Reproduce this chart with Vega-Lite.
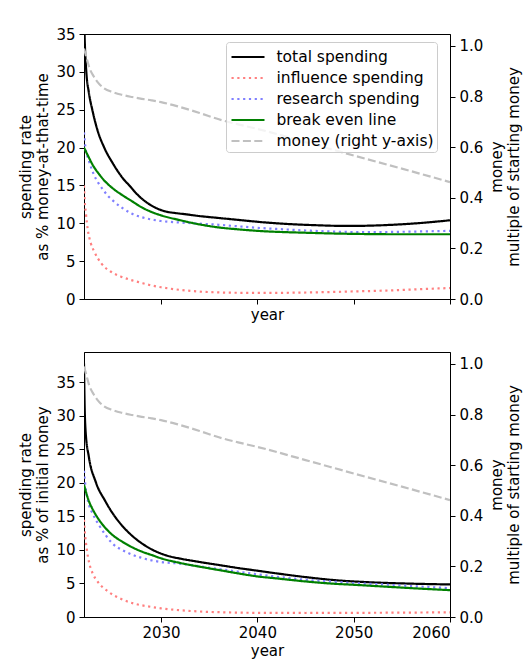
{
  "$schema": "https://vega.github.io/schema/vega-lite/v6.json",
  "padding": {"left": 18, "top": 26, "right": 5, "bottom": 5},
  "config": {
    "font": "DejaVu Sans",
    "view": {"stroke": "black", "strokeWidth": 1},
    "axis": {
      "grid": false, "labelFontSize": 15, "titleFontSize": 15, "titleFontWeight": "normal",
      "labelColor": "black", "titleColor": "black", "domainColor": "black", "tickColor": "black",
      "tickSize": 5, "labelPadding": 4, "titleLineHeight": 17
    },
    "legend": {
      "orient": "none", "legendX": 142, "legendY": 8, "title": null,
      "symbolType": "M-1.5,0L1.5,0", "symbolSize": 484, "symbolStrokeWidth": 2.2, "symbolOffset": 7,
      "labelFontSize": 15.5, "labelColor": "black", "labelOffset": 16, "rowPadding": 0,
      "padding": 2.5, "strokeColor": "#cccccc", "fillColor": "rgba(255,255,255,0.8)", "cornerRadius": 3
    }
  },
  "datasets": {
    "top": [
      {"series": "total spending", "year": 2022, "value": 37.8},
      {"series": "total spending", "year": 2022.08, "value": 34.0},
      {"series": "total spending", "year": 2022.24, "value": 30.0},
      {"series": "total spending", "year": 2022.5, "value": 27.3},
      {"series": "total spending", "year": 2022.86, "value": 25.0},
      {"series": "total spending", "year": 2023.4, "value": 22.3},
      {"series": "total spending", "year": 2024.1, "value": 20.0},
      {"series": "total spending", "year": 2025, "value": 17.9},
      {"series": "total spending", "year": 2026, "value": 16.0},
      {"series": "total spending", "year": 2026.7, "value": 15.0},
      {"series": "total spending", "year": 2027.7, "value": 13.6},
      {"series": "total spending", "year": 2028.8, "value": 12.5},
      {"series": "total spending", "year": 2029.6, "value": 11.95},
      {"series": "total spending", "year": 2030.5, "value": 11.55},
      {"series": "total spending", "year": 2031.5, "value": 11.35},
      {"series": "total spending", "year": 2032.5, "value": 11.2},
      {"series": "total spending", "year": 2034, "value": 10.95},
      {"series": "total spending", "year": 2036, "value": 10.7},
      {"series": "total spending", "year": 2038, "value": 10.45},
      {"series": "total spending", "year": 2040, "value": 10.2},
      {"series": "total spending", "year": 2042, "value": 10.0},
      {"series": "total spending", "year": 2044, "value": 9.85},
      {"series": "total spending", "year": 2046, "value": 9.75},
      {"series": "total spending", "year": 2048, "value": 9.67},
      {"series": "total spending", "year": 2050, "value": 9.65},
      {"series": "total spending", "year": 2052, "value": 9.7},
      {"series": "total spending", "year": 2054, "value": 9.8},
      {"series": "total spending", "year": 2056, "value": 9.95},
      {"series": "total spending", "year": 2058, "value": 10.15},
      {"series": "total spending", "year": 2060, "value": 10.4},
      {"series": "influence spending", "year": 2022, "value": 15.0},
      {"series": "influence spending", "year": 2022.03, "value": 14.0},
      {"series": "influence spending", "year": 2022.2, "value": 11.3},
      {"series": "influence spending", "year": 2022.4, "value": 9.1},
      {"series": "influence spending", "year": 2022.7, "value": 7.4},
      {"series": "influence spending", "year": 2023.07, "value": 6.25},
      {"series": "influence spending", "year": 2023.8, "value": 4.7},
      {"series": "influence spending", "year": 2024.8, "value": 3.6},
      {"series": "influence spending", "year": 2025.85, "value": 2.95},
      {"series": "influence spending", "year": 2026.9, "value": 2.5},
      {"series": "influence spending", "year": 2027.9, "value": 2.15},
      {"series": "influence spending", "year": 2028.8, "value": 1.85},
      {"series": "influence spending", "year": 2030, "value": 1.55},
      {"series": "influence spending", "year": 2032, "value": 1.2},
      {"series": "influence spending", "year": 2034, "value": 0.98},
      {"series": "influence spending", "year": 2036, "value": 0.87},
      {"series": "influence spending", "year": 2038, "value": 0.82},
      {"series": "influence spending", "year": 2040, "value": 0.8},
      {"series": "influence spending", "year": 2043, "value": 0.82},
      {"series": "influence spending", "year": 2046, "value": 0.88},
      {"series": "influence spending", "year": 2050, "value": 1.0},
      {"series": "influence spending", "year": 2053, "value": 1.1},
      {"series": "influence spending", "year": 2056, "value": 1.25},
      {"series": "influence spending", "year": 2060, "value": 1.45},
      {"series": "research spending", "year": 2022, "value": 22.0},
      {"series": "research spending", "year": 2022.15, "value": 20.0},
      {"series": "research spending", "year": 2022.5, "value": 18.3},
      {"series": "research spending", "year": 2023, "value": 16.5},
      {"series": "research spending", "year": 2023.5, "value": 15.3},
      {"series": "research spending", "year": 2024, "value": 14.4},
      {"series": "research spending", "year": 2024.5, "value": 13.6},
      {"series": "research spending", "year": 2025, "value": 13.0},
      {"series": "research spending", "year": 2026, "value": 12.0},
      {"series": "research spending", "year": 2027, "value": 11.25},
      {"series": "research spending", "year": 2028, "value": 10.8},
      {"series": "research spending", "year": 2029, "value": 10.5},
      {"series": "research spending", "year": 2030, "value": 10.3},
      {"series": "research spending", "year": 2032, "value": 10.1},
      {"series": "research spending", "year": 2034, "value": 9.95},
      {"series": "research spending", "year": 2036, "value": 9.8},
      {"series": "research spending", "year": 2038, "value": 9.6},
      {"series": "research spending", "year": 2040, "value": 9.4},
      {"series": "research spending", "year": 2042, "value": 9.25},
      {"series": "research spending", "year": 2045, "value": 9.05},
      {"series": "research spending", "year": 2048, "value": 8.9},
      {"series": "research spending", "year": 2050, "value": 8.85},
      {"series": "research spending", "year": 2053, "value": 8.85},
      {"series": "research spending", "year": 2056, "value": 8.9},
      {"series": "research spending", "year": 2060, "value": 9.0},
      {"series": "break even line", "year": 2022, "value": 20.0},
      {"series": "break even line", "year": 2022.5, "value": 18.7},
      {"series": "break even line", "year": 2023, "value": 17.5},
      {"series": "break even line", "year": 2023.5, "value": 16.6},
      {"series": "break even line", "year": 2024, "value": 15.8},
      {"series": "break even line", "year": 2025, "value": 14.6},
      {"series": "break even line", "year": 2026, "value": 13.7},
      {"series": "break even line", "year": 2027, "value": 12.9},
      {"series": "break even line", "year": 2028, "value": 12.1},
      {"series": "break even line", "year": 2029, "value": 11.5},
      {"series": "break even line", "year": 2030, "value": 11.05},
      {"series": "break even line", "year": 2032, "value": 10.4},
      {"series": "break even line", "year": 2034, "value": 9.85},
      {"series": "break even line", "year": 2036, "value": 9.45},
      {"series": "break even line", "year": 2038, "value": 9.2},
      {"series": "break even line", "year": 2040, "value": 9.0},
      {"series": "break even line", "year": 2045, "value": 8.75},
      {"series": "break even line", "year": 2050, "value": 8.6},
      {"series": "break even line", "year": 2055, "value": 8.55},
      {"series": "break even line", "year": 2060, "value": 8.55}
    ],
    "bottom": [
      {"series": "total spending", "year": 2022, "value": 37.8},
      {"series": "total spending", "year": 2022.06, "value": 32.0},
      {"series": "total spending", "year": 2022.17, "value": 27.6},
      {"series": "total spending", "year": 2022.5, "value": 23.9},
      {"series": "total spending", "year": 2023.2, "value": 20.2},
      {"series": "total spending", "year": 2024.2, "value": 17.3},
      {"series": "total spending", "year": 2025, "value": 15.4},
      {"series": "total spending", "year": 2025.85, "value": 13.8},
      {"series": "total spending", "year": 2026.7, "value": 12.5},
      {"series": "total spending", "year": 2027.6, "value": 11.4},
      {"series": "total spending", "year": 2028.4, "value": 10.6},
      {"series": "total spending", "year": 2029.2, "value": 9.95},
      {"series": "total spending", "year": 2030.1, "value": 9.4},
      {"series": "total spending", "year": 2031, "value": 9.0},
      {"series": "total spending", "year": 2032, "value": 8.7},
      {"series": "total spending", "year": 2034, "value": 8.2},
      {"series": "total spending", "year": 2036, "value": 7.75},
      {"series": "total spending", "year": 2038, "value": 7.3},
      {"series": "total spending", "year": 2040, "value": 6.9},
      {"series": "total spending", "year": 2042, "value": 6.5},
      {"series": "total spending", "year": 2045, "value": 5.95},
      {"series": "total spending", "year": 2048, "value": 5.5},
      {"series": "total spending", "year": 2050, "value": 5.3},
      {"series": "total spending", "year": 2053, "value": 5.1},
      {"series": "total spending", "year": 2056, "value": 4.97},
      {"series": "total spending", "year": 2060, "value": 4.85},
      {"series": "influence spending", "year": 2022, "value": 14.5},
      {"series": "influence spending", "year": 2022.1, "value": 12.5},
      {"series": "influence spending", "year": 2022.3, "value": 10.0},
      {"series": "influence spending", "year": 2022.55, "value": 8.0},
      {"series": "influence spending", "year": 2022.9, "value": 6.5},
      {"series": "influence spending", "year": 2023.4, "value": 5.3},
      {"series": "influence spending", "year": 2024.5, "value": 3.8},
      {"series": "influence spending", "year": 2025.85, "value": 2.7},
      {"series": "influence spending", "year": 2027.2, "value": 2.0},
      {"series": "influence spending", "year": 2029, "value": 1.5},
      {"series": "influence spending", "year": 2030, "value": 1.28},
      {"series": "influence spending", "year": 2032, "value": 1.0},
      {"series": "influence spending", "year": 2034, "value": 0.82},
      {"series": "influence spending", "year": 2037, "value": 0.68},
      {"series": "influence spending", "year": 2040, "value": 0.62},
      {"series": "influence spending", "year": 2045, "value": 0.6},
      {"series": "influence spending", "year": 2050, "value": 0.62},
      {"series": "influence spending", "year": 2055, "value": 0.65},
      {"series": "influence spending", "year": 2060, "value": 0.7},
      {"series": "research spending", "year": 2022, "value": 21.8},
      {"series": "research spending", "year": 2022.15, "value": 19.5},
      {"series": "research spending", "year": 2022.5, "value": 16.8},
      {"series": "research spending", "year": 2022.9, "value": 15.4},
      {"series": "research spending", "year": 2023.6, "value": 13.6},
      {"series": "research spending", "year": 2024.2, "value": 12.3},
      {"series": "research spending", "year": 2024.5, "value": 11.7},
      {"series": "research spending", "year": 2025, "value": 10.9},
      {"series": "research spending", "year": 2026, "value": 9.95},
      {"series": "research spending", "year": 2027, "value": 9.3},
      {"series": "research spending", "year": 2028, "value": 8.8},
      {"series": "research spending", "year": 2029, "value": 8.45},
      {"series": "research spending", "year": 2030, "value": 8.2},
      {"series": "research spending", "year": 2032, "value": 7.95},
      {"series": "research spending", "year": 2034, "value": 7.55},
      {"series": "research spending", "year": 2036, "value": 7.15},
      {"series": "research spending", "year": 2038, "value": 6.75},
      {"series": "research spending", "year": 2040, "value": 6.35},
      {"series": "research spending", "year": 2042, "value": 6.0},
      {"series": "research spending", "year": 2045, "value": 5.55},
      {"series": "research spending", "year": 2048, "value": 5.25},
      {"series": "research spending", "year": 2050, "value": 5.05},
      {"series": "research spending", "year": 2053, "value": 4.85},
      {"series": "research spending", "year": 2056, "value": 4.6},
      {"series": "research spending", "year": 2060, "value": 4.3},
      {"series": "break even line", "year": 2022, "value": 19.7},
      {"series": "break even line", "year": 2022.5, "value": 17.3},
      {"series": "break even line", "year": 2023, "value": 15.8},
      {"series": "break even line", "year": 2023.6, "value": 14.4},
      {"series": "break even line", "year": 2024.2, "value": 13.3},
      {"series": "break even line", "year": 2024.9, "value": 12.3},
      {"series": "break even line", "year": 2026, "value": 11.2},
      {"series": "break even line", "year": 2027, "value": 10.4},
      {"series": "break even line", "year": 2028, "value": 9.75},
      {"series": "break even line", "year": 2029, "value": 9.25},
      {"series": "break even line", "year": 2030, "value": 8.75},
      {"series": "break even line", "year": 2032, "value": 8.05},
      {"series": "break even line", "year": 2034, "value": 7.5},
      {"series": "break even line", "year": 2036, "value": 7.0},
      {"series": "break even line", "year": 2038, "value": 6.5},
      {"series": "break even line", "year": 2040, "value": 6.05},
      {"series": "break even line", "year": 2042, "value": 5.75},
      {"series": "break even line", "year": 2045, "value": 5.3},
      {"series": "break even line", "year": 2048, "value": 4.95},
      {"series": "break even line", "year": 2050, "value": 4.8},
      {"series": "break even line", "year": 2053, "value": 4.55},
      {"series": "break even line", "year": 2056, "value": 4.3},
      {"series": "break even line", "year": 2060, "value": 4.0}
    ],
    "money": [
      {"series": "money (right y-axis)", "year": 2022, "money": 0.99},
      {"series": "money (right y-axis)", "year": 2022.25, "money": 0.955},
      {"series": "money (right y-axis)", "year": 2022.5, "money": 0.92},
      {"series": "money (right y-axis)", "year": 2023, "money": 0.88},
      {"series": "money (right y-axis)", "year": 2023.5, "money": 0.853},
      {"series": "money (right y-axis)", "year": 2024, "money": 0.835},
      {"series": "money (right y-axis)", "year": 2025, "money": 0.817},
      {"series": "money (right y-axis)", "year": 2026, "money": 0.806},
      {"series": "money (right y-axis)", "year": 2027, "money": 0.798},
      {"series": "money (right y-axis)", "year": 2028, "money": 0.791},
      {"series": "money (right y-axis)", "year": 2029, "money": 0.785},
      {"series": "money (right y-axis)", "year": 2030, "money": 0.778},
      {"series": "money (right y-axis)", "year": 2032, "money": 0.758},
      {"series": "money (right y-axis)", "year": 2034, "money": 0.735},
      {"series": "money (right y-axis)", "year": 2036, "money": 0.71},
      {"series": "money (right y-axis)", "year": 2038, "money": 0.69},
      {"series": "money (right y-axis)", "year": 2040, "money": 0.672},
      {"series": "money (right y-axis)", "year": 2045, "money": 0.62},
      {"series": "money (right y-axis)", "year": 2050, "money": 0.567},
      {"series": "money (right y-axis)", "year": 2055, "money": 0.515},
      {"series": "money (right y-axis)", "year": 2060, "money": 0.462}
    ]
  },
  "spacing": 28,
  "resolve": {"scale": {"x": "independent", "y": "independent", "color": "independent", "strokeDash": "independent"}},
  "vconcat": [
    {
      "width": 366,
      "height": 265,
      "encoding": {
        "x": {"field": "year", "type": "quantitative", "scale": {"domain": [2022, 2060], "nice": false, "zero": false},
              "axis": {"values": [2030, 2040, 2050, 2060], "labels": false, "title": "year", "titlePadding": 3}}
      },
      "layer": [
        {
          "data": {"name": "top"},
          "mark": {"type": "line", "strokeWidth": 2.2, "clip": true, "interpolate": "monotone"},
          "encoding": {
            "y": {"field": "value", "type": "quantitative", "scale": {"domain": [0, 35], "nice": false},
                  "axis": {"values": [0, 5, 10, 15, 20, 25, 30, 35], "title": ["spending rate", "as % money-at-that-time"], "titlePadding": 5}},
            "color": {"field": "series", "type": "nominal",
                      "scale": {"domain": ["total spending", "influence spending", "research spending", "break even line", "money (right y-axis)"],
                                "range": ["#000000", "#ff8080", "#8080ff", "#008000", "#c0c0c0"]},
                      "legend": {"symbolType": "M-1.5,0L1.5,0"}},
            "strokeDash": {"field": "series", "type": "nominal",
                           "scale": {"domain": ["total spending", "influence spending", "research spending", "break even line", "money (right y-axis)"],
                                     "range": [[1, 0], [2.2, 3.6], [2.2, 3.6], [1, 0], [8, 3.4]]},
                           "legend": {"symbolType": "M-1.5,0L1.5,0"}}
          }
        },
        {
          "data": {"name": "money"},
          "mark": {"type": "line", "strokeWidth": 2.2, "clip": true, "interpolate": "monotone"},
          "encoding": {
            "y": {"field": "money", "type": "quantitative", "scale": {"domain": [0, 1.047], "nice": false},
                  "axis": {"orient": "right", "values": [0, 0.2, 0.4, 0.6, 0.8, 1.0], "format": ".1f",
                           "title": ["money", "multiple of starting money"], "titleAngle": 270, "titlePadding": 5}},
            "color": {"field": "series", "type": "nominal"},
            "strokeDash": {"field": "series", "type": "nominal"}
          }
        }
      ],
      "resolve": {"scale": {"y": "independent"}}
    },
    {
      "width": 366,
      "height": 265,
      "encoding": {
        "x": {"field": "year", "type": "quantitative", "scale": {"domain": [2022, 2060], "nice": false, "zero": false},
              "axis": {"values": [2030, 2040, 2050, 2060], "format": "d", "title": "year", "labelPadding": 3, "titlePadding": 3}}
      },
      "layer": [
        {
          "data": {"name": "bottom"},
          "mark": {"type": "line", "strokeWidth": 2.2, "clip": true, "interpolate": "monotone"},
          "encoding": {
            "y": {"field": "value", "type": "quantitative", "scale": {"domain": [0, 39.5], "nice": false},
                  "axis": {"values": [0, 5, 10, 15, 20, 25, 30, 35], "title": ["spending rate", "as % of initial money"], "titlePadding": 5}},
            "color": {"field": "series", "type": "nominal", "legend": null,
                      "scale": {"domain": ["total spending", "influence spending", "research spending", "break even line", "money (right y-axis)"],
                                "range": ["#000000", "#ff8080", "#8080ff", "#008000", "#c0c0c0"]}},
            "strokeDash": {"field": "series", "type": "nominal", "legend": null,
                           "scale": {"domain": ["total spending", "influence spending", "research spending", "break even line", "money (right y-axis)"],
                                     "range": [[1, 0], [2.2, 3.6], [2.2, 3.6], [1, 0], [8, 3.4]]}}
          }
        },
        {
          "data": {"name": "money"},
          "mark": {"type": "line", "strokeWidth": 2.2, "clip": true, "interpolate": "monotone"},
          "encoding": {
            "y": {"field": "money", "type": "quantitative", "scale": {"domain": [0, 1.047], "nice": false},
                  "axis": {"orient": "right", "values": [0, 0.2, 0.4, 0.6, 0.8, 1.0], "format": ".1f",
                           "title": ["money", "multiple of starting money"], "titleAngle": 270, "titlePadding": 5}},
            "color": {"field": "series", "type": "nominal", "legend": null},
            "strokeDash": {"field": "series", "type": "nominal", "legend": null}
          }
        }
      ],
      "resolve": {"scale": {"y": "independent"}}
    }
  ]
}
